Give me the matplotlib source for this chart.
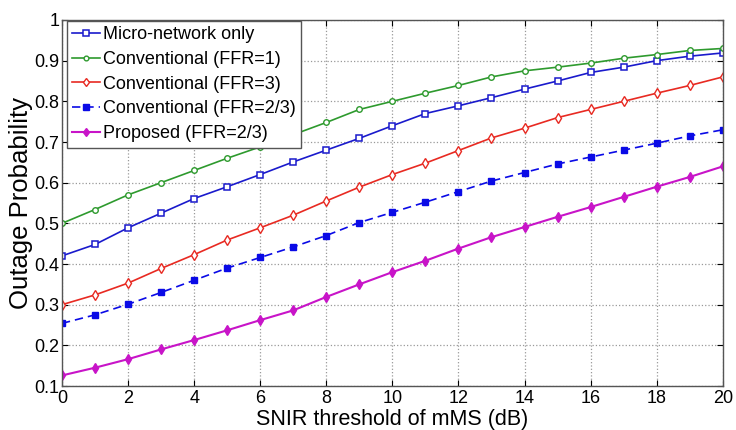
import matplotlib
matplotlib.use("Agg")
import matplotlib.pyplot as plt

plt.rcParams['font.family'] = ['Liberation Sans', 'DejaVu Sans']

snir = list(range(0, 21))
micro_only = [0.420, 0.448, 0.489, 0.525, 0.561, 0.590, 0.620, 0.651, 0.680, 0.709, 0.740,
              0.770, 0.789, 0.809, 0.830, 0.850, 0.871, 0.884, 0.900, 0.911, 0.919]
conv_ffr1 = [0.500, 0.534, 0.570, 0.600, 0.630, 0.660, 0.688, 0.718, 0.748, 0.780, 0.800,
             0.820, 0.839, 0.860, 0.875, 0.884, 0.894, 0.906, 0.915, 0.925, 0.930]
conv_ffr3 = [0.300, 0.324, 0.353, 0.389, 0.423, 0.459, 0.489, 0.520, 0.555, 0.589, 0.620,
             0.648, 0.679, 0.710, 0.734, 0.760, 0.780, 0.800, 0.820, 0.839, 0.860]
conv_ffr23 = [0.254, 0.275, 0.301, 0.330, 0.360, 0.390, 0.416, 0.442, 0.470, 0.502, 0.527,
              0.552, 0.578, 0.604, 0.625, 0.646, 0.663, 0.680, 0.697, 0.715, 0.730]
proposed = [0.126, 0.145, 0.166, 0.190, 0.213, 0.237, 0.262, 0.286, 0.319, 0.350, 0.380,
            0.408, 0.438, 0.466, 0.491, 0.516, 0.540, 0.565, 0.590, 0.614, 0.640]

labels = ['Micro-network only', 'Conventional (FFR=1)', 'Conventional (FFR=3)',
          'Conventional (FFR=2/3)', 'Proposed (FFR=2/3)']
xticks = list(range(0, 21, 2))
yticks = [0.1, 0.2, 0.3, 0.4, 0.5, 0.6, 0.7, 0.8, 0.9, 1.0]
ytick_labels = ['0.1', '0.2', '0.3', '0.4', '0.5', '0.6', '0.7', '0.8', '0.9', '1']

fig = plt.figure(figsize=(7.36, 4.30), dpi=100)
ax = fig.add_axes([0.0842, 0.1023, 0.8978, 0.8512])

ax.plot(snir, micro_only, color='#1a1acc', lw=1.2, marker='s', ms=5, mfc='white',
        mec='#1a1acc', mew=1.1, label=labels[0])
ax.plot(snir, conv_ffr1, color='#2e9a2e', lw=1.2, marker='o', ms=4, mfc='white',
        mec='#2e9a2e', mew=1.0, label=labels[1])
ax.plot(snir, conv_ffr3, color='#e82a22', lw=1.2, marker='d', ms=5, mfc='white',
        mec='#e82a22', mew=1.0, label=labels[2])
ax.plot(snir, conv_ffr23, color='#0a0ae6', lw=1.2, ls=(0, (5, 3)), marker='s', ms=5,
        mfc='#0a0ae6', mec='#0a0ae6', label=labels[3])
ax.plot(snir, proposed, color='#c814c8', lw=1.5, marker='d', ms=5, mfc='#c814c8',
        mec='#c814c8', label=labels[4])

ax.set_xlim(0, 20)
ax.set_ylim(0.1, 1.0)
ax.set_xticks(xticks)
ax.set_yticks(yticks)
ax.set_yticklabels(ytick_labels)
ax.tick_params(direction='in', top=True, right=True, labelsize=13, length=4)
ax.tick_params(axis='y', pad=2)
ax.tick_params(axis='x', pad=3)
ax.grid(True, ls=':', color='#999999', lw=0.9)
for s in ax.spines.values():
    s.set_color('#555555')
    s.set_linewidth(1.0)

ax.set_xlabel('SNIR threshold of mMS (dB)', fontsize=15.5, labelpad=1)
ax.set_ylabel('Outage Probability', fontsize=18.5, labelpad=1)

leg = ax.legend(loc='upper left', bbox_to_anchor=(0.007, 0.998), borderaxespad=0,
                fontsize=13, frameon=True, fancybox=False,
                edgecolor='#555555', framealpha=1.0,
                handlelength=1.55, handletextpad=0.15, labelspacing=0.43,
                borderpad=0.3, markerscale=0.85)
leg.get_frame().set_linewidth(1.0)
leg.set_zorder(10)

fig.savefig('out.png', dpi=100)
